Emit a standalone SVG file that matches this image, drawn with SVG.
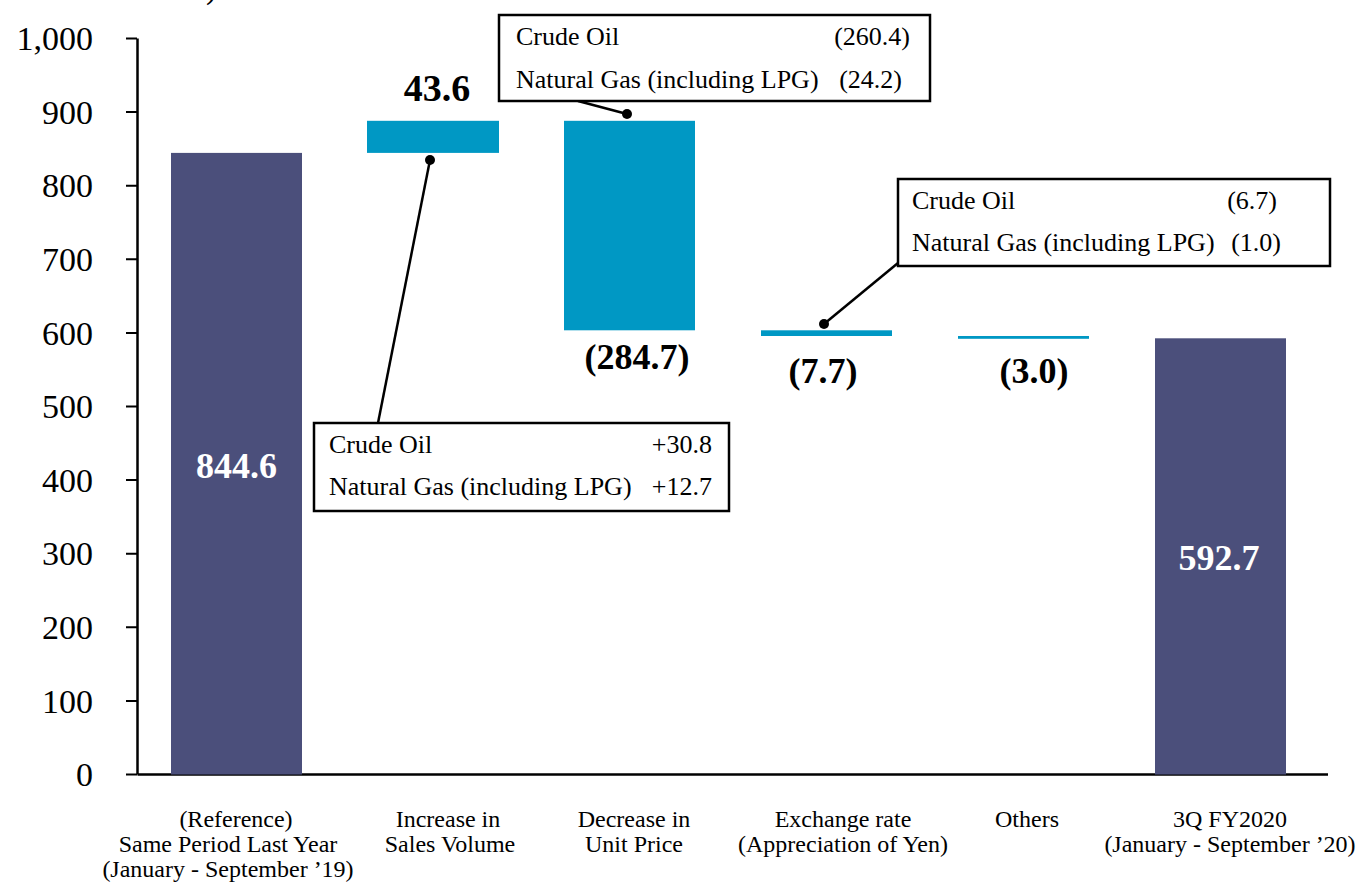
<svg xmlns="http://www.w3.org/2000/svg" width="1366" height="883" viewBox="0 0 1366 883">
<style>
text{font-family:"Liberation Serif","Times New Roman",serif;fill:#000}
.ax{font-size:34px;text-anchor:end}
.cat{font-size:24px;text-anchor:middle}
.val{font-size:36px;font-weight:bold;text-anchor:middle}
.wv{fill:#fff}
.cb{font-size:26px}
.r{text-anchor:end}
.box{fill:#fff;stroke:#000;stroke-width:2.5}
.dk{fill:#4B4F7B}
.lb{fill:#0098C4}
.ln{stroke:#000;stroke-width:2.5;fill:none}
</style>
<rect width="1366" height="883" fill="#fff"/>
<text x="206" y="-2" style="font-size:33px">)</text>
<g id="axis">
<path class="ln" d="M137.5,38.5V774.5M137.5,774.5H1328"/>
<path stroke="#000" stroke-width="2" d="M126,38.5H137M126,112.1H137M126,185.7H137M126,259.3H137M126,332.9H137M126,406.5H137M126,480.1H137M126,553.7H137M126,627.3H137M126,700.9H137M126,774.5H137"/>
<text class="ax" x="93" y="50">1,000</text>
<text class="ax" x="93" y="124">900</text>
<text class="ax" x="93" y="197">800</text>
<text class="ax" x="93" y="271">700</text>
<text class="ax" x="93" y="345">600</text>
<text class="ax" x="93" y="418">500</text>
<text class="ax" x="93" y="492">400</text>
<text class="ax" x="93" y="565">300</text>
<text class="ax" x="93" y="639">200</text>
<text class="ax" x="93" y="713">100</text>
<text class="ax" x="93" y="786">0</text>
</g>
<g id="bar-reference">
<rect class="dk" x="171" y="152.9" width="131" height="621.6"/>
<text class="val wv" x="236.5" y="478">844.6</text>
<text class="cat" x="236" y="827">(Reference)</text>
<text class="cat" x="228" y="852">Same Period Last Year</text>
<text class="cat" x="228" y="877">(January - September ’19)</text>
</g>
<g id="bar-volume">
<rect class="lb" x="367" y="120.8" width="132" height="32.1"/>
<text class="val" x="437" y="101" style="font-size:38px">43.6</text>
<text class="cat" x="448" y="827">Increase in</text>
<text class="cat" x="450" y="852">Sales Volume</text>
</g>
<g id="bar-price">
<rect class="lb" x="564" y="120.8" width="131" height="209.5"/>
<text class="val" x="637" y="369">(284.7)</text>
<text class="cat" x="634" y="827">Decrease in</text>
<text class="cat" x="634" y="852">Unit Price</text>
</g>
<g id="bar-exchange">
<rect class="lb" x="761" y="330.3" width="131" height="5.7"/>
<text class="val" x="823" y="383">(7.7)</text>
<text class="cat" x="843" y="827">Exchange rate</text>
<text class="cat" x="843" y="852">(Appreciation of Yen)</text>
</g>
<g id="bar-others">
<rect class="lb" x="958" y="336" width="131" height="2.8"/>
<text class="val" x="1034" y="383">(3.0)</text>
<text class="cat" x="1027" y="827">Others</text>
</g>
<g id="bar-3q">
<rect class="dk" x="1155" y="338.3" width="131" height="436.2"/>
<text class="val wv" x="1219" y="570">592.7</text>
<text class="cat" x="1230" y="827">3Q FY2020</text>
<text class="cat" x="1230" y="852">(January - September ’20)</text>
</g>
<g id="connectors">
<path class="ln" d="M430,160L378,423"/>
<circle cx="430" cy="160" r="5"/>
<path class="ln" d="M578,101L627,114"/>
<circle cx="627" cy="114" r="5"/>
<path class="ln" d="M898,263L824,324"/>
<circle cx="824" cy="324" r="5"/>
</g>
<g id="callout-price">
<rect class="box" x="499" y="15" width="431" height="86"/>
<text class="cb" x="516" y="45">Crude Oil</text>
<text class="cb r" x="910" y="45">(260.4)</text>
<text class="cb" x="516" y="88">Natural Gas (including LPG)</text>
<text class="cb r" x="902" y="88">(24.2)</text>
</g>
<g id="callout-volume">
<rect class="box" x="314" y="423" width="415" height="88"/>
<text class="cb" x="329" y="453">Crude Oil</text>
<text class="cb r" x="712" y="453">+30.8</text>
<text class="cb" x="329" y="495">Natural Gas (including LPG)</text>
<text class="cb r" x="712" y="495">+12.7</text>
</g>
<g id="callout-exchange">
<rect class="box" x="898" y="179" width="432" height="87"/>
<text class="cb" x="912" y="209">Crude Oil</text>
<text class="cb r" x="1277" y="209">(6.7)</text>
<text class="cb" x="912" y="251">Natural Gas (including LPG)</text>
<text class="cb r" x="1281" y="251">(1.0)</text>
</g>
</svg>
